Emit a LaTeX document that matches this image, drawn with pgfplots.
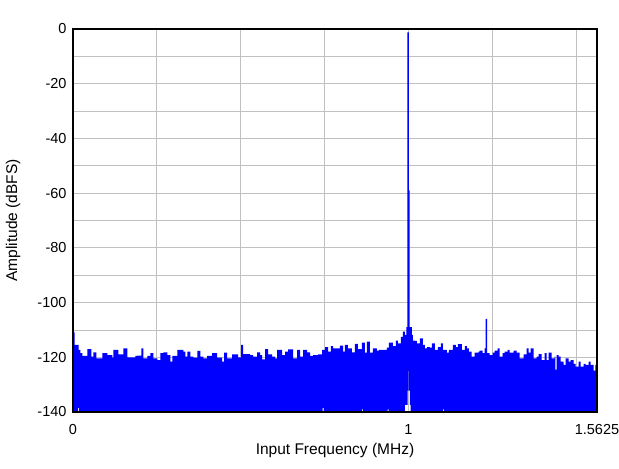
\documentclass[border=0pt]{standalone}
\usepackage{fontspec}
\setmainfont{Liberation Sans}
\usepackage{pgfplots}
\pgfplotsset{compat=1.18}
\usepgfplotslibrary{fillbetween}
\definecolor{gridgray}{RGB}{192,192,192}

\begin{document}
\begin{tikzpicture}
\begin{axis}[
    at={(73bp,57bp)}, anchor=south west,
    scale only axis,
    width=524bp, height=383bp,
    xmin=0, xmax=1.5625,
    ymin=-140, ymax=0,
    xtick={0,1,1.5625}, xticklabels={0,1,1.5625},
    minor xtick={0.25,0.5,0.75,1.25,1.5},
    ytick={-140,-120,...,0},
    yticklabels={-140,-120,-100,-80,-60,-40,-20,0},
    minor ytick={-130,-110,...,-10},
    grid=both,
    grid style={gridgray, line width=0.8bp},
    minor grid style={gridgray, line width=0.8bp},
    major tick length=0pt, minor tick length=0pt,
    axis line style={black, line width=2bp},
    tick label style={font=\fontsize{14.5bp}{16bp}\selectfont},
    xticklabel style={yshift=-9bp},
    yticklabel style={xshift=-3bp},
    label style={font=\fontsize{15.5bp}{18bp}\selectfont},
    xlabel={Input Frequency (MHz)},
    ylabel={Amplitude (dBFS)},
    xlabel style={at={(axis description cs:0.5,-0.1018)}, anchor=center},
    ylabel style={at={(axis description cs:-0.1145,0.5)}, anchor=center},
]
% upper envelope of the spectrum
\addplot[draw=none, const plot, name path=upper] table {
x y
0 -110.9
0.0045 -115.5
0.0164 -117.3
0.0223 -118.5
0.0283 -119.5
0.0432 -117.0
0.0551 -119.8
0.0610 -118.2
0.0699 -120.4
0.0878 -118.5
0.1027 -119.2
0.1176 -120.1
0.1205 -117.3
0.1354 -118.9
0.1503 -116.7
0.1622 -120.0
0.1860 -119.5
0.1920 -119.4
0.2039 -116.7
0.2098 -120.4
0.2217 -119.5
0.2307 -118.5
0.2396 -120.4
0.2515 -121.0
0.2604 -118.5
0.2693 -118.2
0.2813 -119.2
0.2902 -121.6
0.2961 -119.5
0.3110 -117.3
0.3289 -117.9
0.3348 -119.8
0.3408 -117.9
0.3497 -119.8
0.3586 -120.1
0.3705 -117.7
0.3795 -119.8
0.3884 -120.4
0.4003 -119.5
0.4152 -118.5
0.4301 -120.1
0.4449 -121.6
0.4509 -118.3
0.4598 -120.4
0.4747 -118.9
0.4926 -120.0
0.5015 -115.5
0.5074 -118.8
0.5283 -119.2
0.5372 -119.8
0.5491 -118.2
0.5580 -119.2
0.5640 -120.8
0.5729 -117.0
0.5818 -118.9
0.5938 -119.8
0.6027 -120.4
0.6086 -117.3
0.6235 -119.2
0.6324 -117.9
0.6414 -117.1
0.6562 -120.4
0.6682 -117.3
0.6771 -119.8
0.6860 -117.3
0.6979 -118.2
0.7068 -119.5
0.7158 -119.2
0.7307 -118.9
0.7426 -117.3
0.7515 -116.3
0.7604 -117.9
0.7693 -115.9
0.7753 -116.7
0.7872 -116.7
0.7961 -115.7
0.8051 -117.9
0.8110 -115.5
0.8199 -116.7
0.8318 -118.2
0.8408 -115.1
0.8497 -117.0
0.8616 -114.6
0.8705 -118.3
0.8765 -114.3
0.8854 -118.3
0.8943 -116.7
0.9062 -117.6
0.9122 -117.3
0.9360 -116.5
0.9420 -114.6
0.9539 -115.9
0.9628 -113.9
0.9688 -114.9
0.9777 -112.5
0.9836 -110.6
0.9896 -111.8
0.9940 -109.0
0.9970 -1.2
1.0012 -59.0
1.0040 -109.0
1.0104 -111.8
1.0134 -113.9
1.0193 -114.0
1.0253 -114.9
1.0342 -113.1
1.0432 -115.5
1.0491 -116.7
1.0551 -116.3
1.0640 -116.5
1.0699 -114.9
1.0789 -117.3
1.0878 -116.3
1.0967 -114.9
1.1027 -117.3
1.1146 -118.3
1.1205 -117.3
1.1324 -115.5
1.1414 -116.3
1.1473 -115.2
1.1592 -117.3
1.1682 -115.9
1.1741 -116.7
1.1801 -117.9
1.1890 -119.8
1.1979 -118.3
1.2098 -117.9
1.2128 -117.6
1.2217 -118.5
1.2277 -116.7
1.2307 -106.0
1.2351 -118.5
1.2426 -119.2
1.2515 -118.3
1.2574 -117.6
1.2664 -116.7
1.2723 -119.8
1.2812 -118.5
1.2872 -117.9
1.2961 -117.3
1.3021 -118.3
1.3140 -117.6
1.3229 -118.3
1.3318 -120.4
1.3438 -118.9
1.3527 -116.7
1.3586 -118.3
1.3646 -116.7
1.3735 -120.4
1.3824 -119.8
1.3884 -118.8
1.3973 -121.0
1.4062 -118.5
1.4122 -121.0
1.4182 -118.3
1.4271 -120.4
1.4360 -119.8
1.4380 -124.5
1.4420 -119.2
1.4479 -119.8
1.4539 -121.6
1.4628 -122.8
1.4688 -120.4
1.4777 -121.6
1.4836 -121.0
1.4926 -122.4
1.4985 -123.4
1.5074 -121.6
1.5134 -123.4
1.5223 -122.4
1.5283 -122.8
1.5372 -121.6
1.5432 -122.8
1.5521 -124.9
1.5580 -122.8
1.5625 -122.8
};
% lower envelope (mostly below the axis, notch around the carrier)
\addplot[draw=none, const plot, name path=lower] table {
x y
0 -150
0.0150 -138.5
0.0180 -150
0.7440 -138.5
0.7470 -150
0.8620 -139.0
0.8650 -150
0.9380 -139.0
0.9410 -150
0.9896 -137.4
0.9976 -132.2
0.9988 -125.0
1.0003 -132.2
1.0045 -137.4
1.0066 -150
1.1027 -139.0
1.1057 -150
1.5625 -150
};
\addplot[blue, draw=none] fill between[of=upper and lower];
\draw[black, line width=2bp] (rel axis cs:0,0) rectangle (rel axis cs:1,1);
\end{axis}
\pgfresetboundingbox
\path (0,0) rectangle (619bp,469bp);
\end{tikzpicture}
\end{document}
